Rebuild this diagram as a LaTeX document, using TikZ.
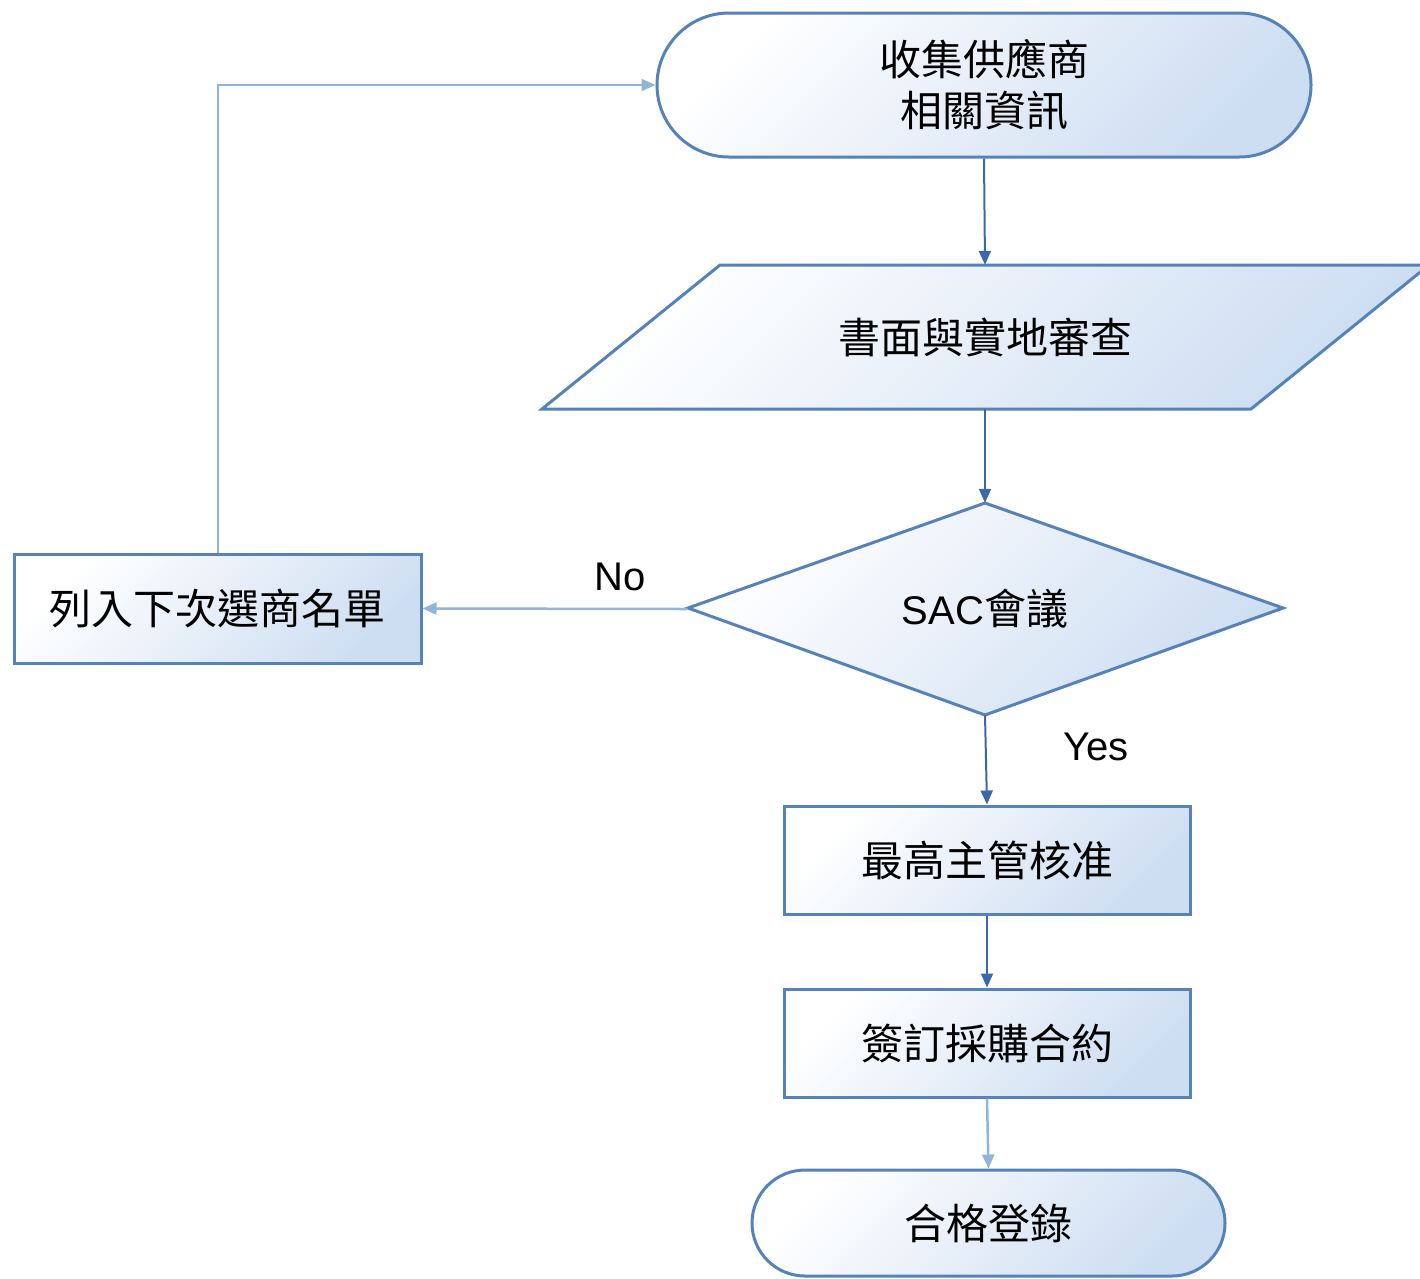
\documentclass[tikz,border=0pt]{standalone}
\usepackage{fontspec}
\setmainfont{Liberation Sans}
\newfontfamily\cjk[Scale=1.05]{Noto Sans CJK TC}
\usetikzlibrary{arrows.meta,shapes.misc}
\definecolor{bord}{RGB}{84,130,185}
\definecolor{fillc}{RGB}{206,222,242}
\definecolor{darkarr}{RGB}{58,104,168}
\definecolor{lightarr}{RGB}{148,180,214}
\begin{document}
\begin{tikzpicture}[x=1pt,y=1pt,
  shapefill/.style={draw=bord,line width=3pt,top color=white,bottom color=fillc,shading angle=45},
  term/.style={shapefill,rounded rectangle,inner sep=0pt},
  procbox/.style={shapefill,rectangle,inner sep=0pt,minimum width=406pt,minimum height=108pt},
  cjklbl/.style={font=\cjk\fontsize{40}{51}\selectfont,align=center,text=black},
  latlbl/.style={font=\fontsize{40}{48}\selectfont,text=black},
  anchorbox/.style={draw=none,inner sep=0pt},
  darkline/.style={draw=darkarr,line width=2pt,-{Triangle[length=14pt,width=12pt]}},
  lightline/.style={draw=lightarr,line width=2.5pt,-{Triangle[length=14pt,width=12pt]}},
  ]
\useasboundingbox (0,0) rectangle (1420,-1278);
% start terminal
\node[term,cjklbl,minimum width=654pt,minimum height=144pt] (start) at (984,-85) {收集供應商\\相關資訊};
% parallelogram
\path[shapefill] (542,-409) -- (720,-265) -- (1429,-265) -- (1251,-409) -- cycle;
\node[anchorbox,cjklbl,minimum height=144pt,minimum width=500pt] (para) at (985,-337) {書面與實地審查};
% diamond
\path[shapefill] (688,-608) -- (985,-503) -- (1283,-608) -- (985,-715) -- cycle;
\node[anchorbox,latlbl,minimum width=595pt,minimum height=212pt] (dec) at (985,-609) {SAC{\cjk 會議}};
% boxes
\node[procbox,cjklbl,minimum width=407pt,minimum height=109pt] (left) at (217.5,-608.5) {列入下次選商名單};
\node[procbox,cjklbl] (box1) at (987,-860) {最高主管核准};
\node[procbox,cjklbl] (box2) at (987,-1043) {簽訂採購合約};
\node[term,cjklbl,minimum width=473pt,minimum height=106pt] (stop) at (988.5,-1223) {合格登錄};
% labels
\node[latlbl] (nolbl) at (620,-577) {No};
\node[latlbl] (yeslbl) at (1096,-747) {Yes};
% connectors
\draw[darkline] (start.south) -- (para.north);
\draw[darkline] (para.south) -- (dec.north);
\draw[darkline] (dec.south) -- (box1.north);
\draw[darkline] (box1.south) -- (box2.north);
\draw[lightline] (box2.south) -- (stop.north);
\draw[lightline] (dec.west) -- (left.east);
\draw[lightline,line width=2pt] (left.north) |- (start.west);
\end{tikzpicture}
\end{document}
